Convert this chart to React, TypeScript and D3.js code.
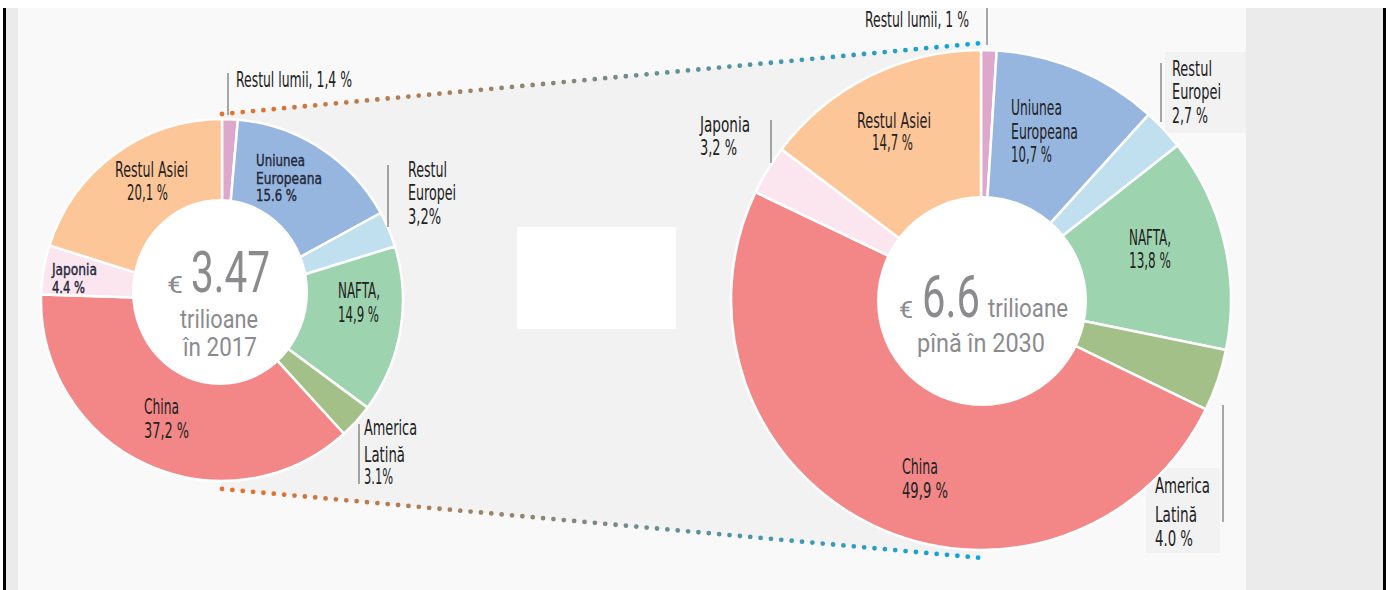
import React from "react";
import * as d3 from "d3";

// ---------- data ----------
const regions = [
  "Restul lumii",
  "Uniunea Europeana",
  "Restul Europei",
  "NAFTA",
  "America Latină",
  "China",
  "Japonia",
  "Restul Asiei",
];
const share2017 = [1.4, 15.6, 3.2, 14.9, 3.1, 37.2, 4.4, 20.1];
const share2030 = [1.0, 10.7, 2.7, 13.8, 4.0, 49.9, 3.2, 14.7];
const regionColors = ["#dea8cd", "#96b6e0", "#c0e0f0", "#9dd3ae", "#a2c088", "#f38788", "#fbe5ef", "#fdc698"];

const labels2017 = [
  ["Restul lumii, 1,4 %"],
  ["Uniunea", "Europeana", "15.6 %"],
  ["Restul", "Europei", "3,2%"],
  ["NAFTA,", "14,9 %"],
  ["America", "Latină", "3.1%"],
  ["China", "37,2 %"],
  ["Japonia", "4.4 %"],
  ["Restul Asiei", "20,1 %"],
];
const labels2030 = [
  ["Restul lumii, 1 %"],
  ["Uniunea", "Europeana", "10,7 %"],
  ["Restul", "Europei", "2,7 %"],
  ["NAFTA,", "13,8 %"],
  ["America", "Latină", "4.0 %"],
  ["China", "49,9 %"],
  ["Japonia", "3,2 %"],
  ["Restul Asiei", "14,7 %"],
];
const totals = ["3.47", "6.6"];
const totalUnit = ["trilioane", "trilioane"];
const totalWhen = ["în 2017", "pînă în 2030"];

// ---------- layout (positions / styles) ----------
type LabelLayout = {
  x: number[];
  ys: number[];
  ws: number[];
  size: number;
  color?: string;
  heavy?: boolean;
  leader?: [number, number, number];
  box?: [number, number, number, number];
};

const layout2017: LabelLayout[] = [
  { x: [236], ys: [87], ws: [116], size: 22, leader: [228, 73, 115] },
  { x: [256, 256, 256], ys: [166, 184, 201], ws: [49, 66, 41], size: 16.5, color: "#23283a", heavy: true },
  { x: [408, 408, 408], ys: [177, 200, 224], ws: [39, 48, 33], size: 22, leader: [388, 165, 227] },
  { x: [338, 338], ys: [298, 322], ws: [42, 41], size: 22 },
  { x: [364, 364, 364], ys: [435, 462, 484], ws: [53, 41, 29], size: 22, leader: [359, 424, 484] },
  { x: [144, 144], ys: [414, 438], ws: [35, 45], size: 22 },
  { x: [52, 52], ys: [275, 293], ws: [45, 33], size: 16.5, color: "#23283a", heavy: true },
  { x: [115, 127], ys: [177, 200], ws: [73, 41], size: 22 },
];
const layout2030: LabelLayout[] = [
  { x: [865], ys: [27], ws: [104], size: 22, leader: [987, 8, 45] },
  { x: [1011, 1011, 1011], ys: [115, 139, 162], ws: [51, 67, 41], size: 22 },
  { x: [1172, 1172, 1172], ys: [76, 99, 123], ws: [40, 49, 36], size: 22, leader: [1161, 63, 122], box: [1165, 52, 81, 81] },
  { x: [1129, 1129], ys: [245, 268], ws: [42, 42], size: 22 },
  { x: [1155, 1155, 1155], ys: [493, 522, 546], ws: [55, 42, 38], size: 22, leader: [1223, 405, 522], box: [1146, 468, 74, 85] },
  { x: [902, 902], ys: [474, 498], ws: [36, 46], size: 22 },
  { x: [700, 700], ys: [132, 155], ws: [50, 37], size: 22, leader: [771, 120, 163] },
  { x: [857, 872], ys: [128, 150], ws: [74, 41], size: 22 },
];

const LABEL_FONT = "'Liberation Sans Narrow', 'DejaVu Sans Condensed', 'Roboto', sans-serif";
const CENTER_FONT = "'Liberation Sans Narrow', 'Roboto', sans-serif";

const donuts = [
  {
    cx: 222, cy: 300, r: 181,
    hole: { cx: 220, cy: 292, rx: 88, ry: 93 },
    data: share2017, labels: labels2017, layout: layout2017,
    center: {
      euro: { x: 167, y: 293, w: 16, size: 24 },
      total: { x: 191, y: 292, w: 79, size: 58 },
      unit: { x: 180, y: 328, w: 78, size: 26 },
      when: { x: 183, y: 356, w: 74, size: 26 },
    },
  },
  {
    cx: 981, cy: 300, r: 250,
    hole: { cx: 982, cy: 301, rx: 105, ry: 105 },
    data: share2030, labels: labels2030, layout: layout2030,
    center: {
      euro: { x: 899, y: 318, w: 14, size: 24 },
      total: { x: 922, y: 317, w: 58, size: 60 },
      unit: { x: 988, y: 317, w: 80, size: 26 },
      when: { x: 917, y: 352, w: 128, size: 26 },
    },
  },
];

export default function App() {
  const W = 1392;
  const H = 590;
  const pie = d3.pie<number>().sort(null).value((d) => d);

  const [L, R] = donuts;
  const topL: [number, number] = [L.cx, L.cy - L.r - 5];
  const topR: [number, number] = [R.cx + 1, R.cy - R.r - 7];
  const botL: [number, number] = [L.cx, L.cy + L.r + 8];
  const botR: [number, number] = [R.cx + 1, R.cy + R.r + 8];
  const funnel = d3.line()([topL, topR, botR, botL]) + "Z";

  return (
    <svg
      width={W}
      height={H}
      style={{ position: "absolute", left: 0, top: 0, display: "block" }}
      xmlns="http://www.w3.org/2000/svg"
    >
      <defs>
        <linearGradient id="dotGrad" gradientUnits="userSpaceOnUse" x1={L.cx} y1={0} x2={R.cx} y2={0}>
          <stop offset="0" stopColor="#e8702a" />
          <stop offset="1" stopColor="#0aa6dd" />
        </linearGradient>
      </defs>
      {/* page frame */}
      <rect x={0} y={0} width={W} height={H} fill="#ffffff" />
      <rect x={3} y={8} width={3} height={H - 8} fill="#000" />
      <rect x={6} y={8} width={12} height={H - 8} fill="#ebebeb" />
      <rect x={18} y={8} width={1228} height={H - 8} fill="#f9f9f9" />
      <rect x={1246} y={8} width={137} height={H - 8} fill="#ebebeb" />
      <rect x={1383} y={8} width={3} height={H - 8} fill="#000" />

      {/* funnel */}
      <path d={funnel} fill="#f2f2f2" />
      <rect x={517} y={227} width={159} height={102} fill="#ffffff" />

      {donuts.map((dn, di) => {
        const arcs = pie(dn.data);
        const arc = d3.arc<d3.PieArcDatum<number>>().innerRadius(dn.r * 0.3).outerRadius(dn.r);
        return (
          <g key={"d" + di}>
            {dn.layout.map((lay, i) =>
              lay.box ? (
                <rect key={"b" + i} x={lay.box[0]} y={lay.box[1]} width={lay.box[2]} height={lay.box[3]} fill="#f2f2f2" />
              ) : null
            )}
            <g transform={`translate(${dn.cx},${dn.cy})`}>
              {arcs.map((a, i) => (
                <path
                  key={regions[i]}
                  d={arc(a) || ""}
                  fill={regionColors[i]}
                  stroke="#ffffff"
                  strokeWidth={2.5}
                  strokeLinejoin="round"
                />
              ))}
            </g>
            <ellipse cx={dn.hole.cx} cy={dn.hole.cy} rx={dn.hole.rx} ry={dn.hole.ry} fill="#ffffff" />
            {dn.layout.map((lay, i) =>
              lay.leader ? (
                <line
                  key={"l" + i}
                  x1={lay.leader[0]}
                  x2={lay.leader[0]}
                  y1={lay.leader[1]}
                  y2={lay.leader[2]}
                  stroke="#555"
                  strokeWidth={1}
                />
              ) : null
            )}
            {dn.labels.map((lines, i) => {
              const lay = dn.layout[i];
              const col = lay.color || "#222";
              return (
                <g key={"t" + i}>
                  {lines.map((s, j) => (
                    <text
                      key={j}
                      x={lay.x[j]}
                      y={lay.ys[j]}
                      fontSize={lay.size}
                      fontFamily={LABEL_FONT}
                      fill={col}
                      stroke={lay.heavy ? col : "none"}
                      strokeWidth={lay.heavy ? 0.4 : 0}
                      textLength={lay.ws[j]}
                      lengthAdjust="spacingAndGlyphs"
                    >
                      {s}
                    </text>
                  ))}
                </g>
              );
            })}
            {/* center text */}
            <g fill="#8b8b8e" fontFamily={CENTER_FONT}>
              <text x={dn.center.euro.x} y={dn.center.euro.y} fontSize={dn.center.euro.size} textLength={dn.center.euro.w} lengthAdjust="spacingAndGlyphs">€</text>
              <text x={dn.center.total.x} y={dn.center.total.y} fontSize={dn.center.total.size} textLength={dn.center.total.w} lengthAdjust="spacingAndGlyphs">{totals[di]}</text>
              <text x={dn.center.unit.x} y={dn.center.unit.y} fontSize={dn.center.unit.size} textLength={dn.center.unit.w} lengthAdjust="spacingAndGlyphs">{totalUnit[di]}</text>
              <text x={dn.center.when.x} y={dn.center.when.y} fontSize={dn.center.when.size} textLength={dn.center.when.w} lengthAdjust="spacingAndGlyphs">{totalWhen[di]}</text>
            </g>
          </g>
        );
      })}

      {/* dotted connectors */}
      <line x1={topL[0]} y1={topL[1]} x2={topR[0]} y2={topR[1]} stroke="url(#dotGrad)" strokeWidth={4.8} strokeLinecap="round" strokeDasharray="0 10.4" />
      <line x1={botL[0]} y1={botL[1]} x2={botR[0]} y2={botR[1]} stroke="url(#dotGrad)" strokeWidth={4.8} strokeLinecap="round" strokeDasharray="0 10.4" />
    </svg>
  );
}
